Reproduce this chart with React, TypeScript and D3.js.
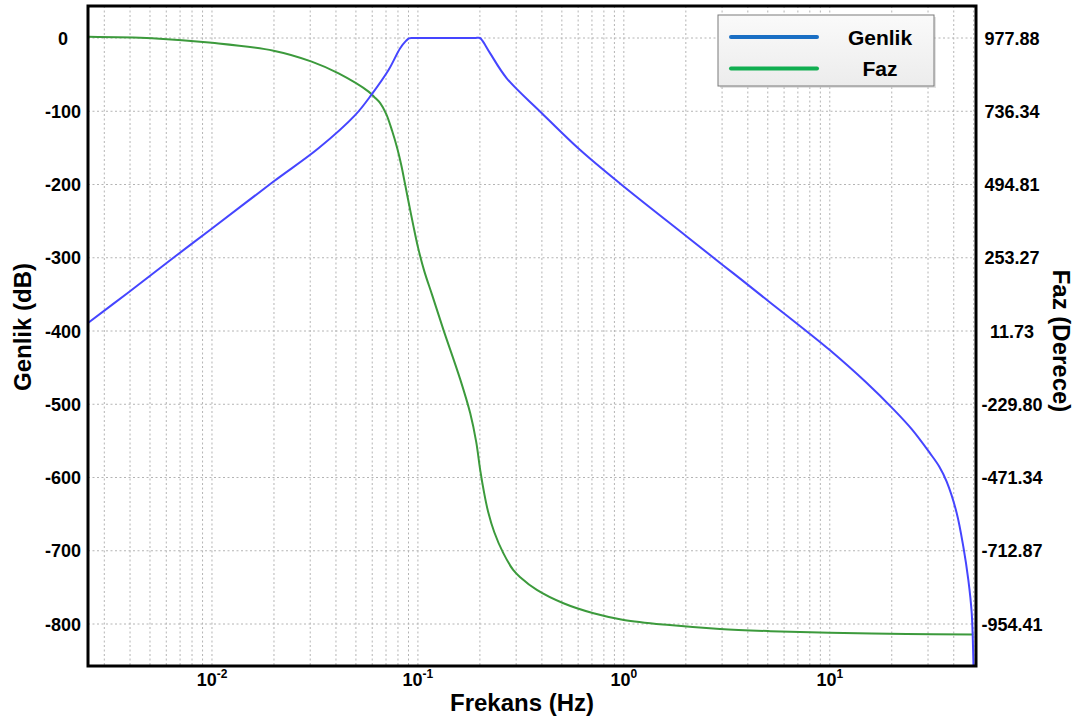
import React from "react";
import * as d3 from "d3";

// Magnitude (dB) vs frequency (Hz)
const magFreq = [0.0025, 0.00394, 0.00664, 0.01, 0.0199, 0.0329, 0.0497, 0.0598, 0.072, 0.082, 0.0875, 0.0905, 0.094, 0.11, 0.14, 0.17, 0.19, 0.2, 0.206, 0.2244, 0.27, 0.393, 0.614, 0.978, 2.02, 3.04, 3.67, 5.13, 8.02, 10.0, 15.0, 20.4, 25.0, 30.7, 34.0, 37.0, 41.3, 44.5, 47.1, 48.9, 49.8, 50.3];
const magDb = [-389, -347, -298, -260, -196, -150.6, -105, -76.5, -43.7, -14, -4, -0.5, 0, 0, 0, 0, 0, 0, -4, -21, -55, -100.6, -153, -200.7, -271, -310.5, -328.5, -361, -404, -426, -470, -507, -534, -567, -585, -606, -648, -694, -740, -785, -849, -920];

// Phase (degrees) vs frequency (Hz)
const phaseFreq = [0.0025, 0.00512, 0.01, 0.0199, 0.0305, 0.0412, 0.0576, 0.0621, 0.0656, 0.0702, 0.075, 0.0793, 0.083, 0.0868, 0.0907, 0.0949, 0.1003, 0.1073, 0.1173, 0.1327, 0.1604, 0.1794, 0.1919, 0.2007, 0.2098, 0.2194, 0.2347, 0.2595, 0.2901, 0.3139, 0.378, 0.509, 0.7126, 0.999, 1.67, 2.93, 5.14, 10.0, 23.6, 49.9];
const phaseDeg = [982, 977, 962, 936, 900, 861, 801, 780, 763, 727, 671, 615, 559, 493, 427, 361, 285, 210, 130, 18, -147, -259, -354, -447, -523, -585, -651, -720, -776, -800, -842, -886, -919, -941, -958, -971, -978, -983, -987, -989];

const leftTicks = [0, -100, -200, -300, -400, -500, -600, -700, -800];
const rightTicks = [977.88, 736.34, 494.81, 253.27, 11.73, -229.8, -471.34, -712.87, -954.41];
const xMajor = [0.01, 0.1, 1, 10];
const xMajorExp = ["-2", "-1", "0", "1"];

const FONT = "'Liberation Sans', Arial, Helvetica, sans-serif";

export default function App() {
  const W = 1078, H = 718;
  const L = 88, R = 976, T = 6, B = 666;
  const x = d3.scaleLog().domain([0.0025, 51.3]).range([L, R]);
  const yL = d3.scaleLinear().domain([0, -800]).range([38, 624]);
  const yR = d3.scaleLinear().domain([977.88, -954.41]).range([38, 624]);

  const minor: number[] = [];
  for (let e = -3; e <= 1; e++) {
    for (let m = 1; m <= 9; m++) {
      const v = m * Math.pow(10, e);
      if (v >= 0.0025 && v <= 51.3) minor.push(v);
    }
  }

  const magLine = d3.line<number>()
    .x((_, i) => x(magFreq[i]))
    .y((d) => yL(d))
    .curve(d3.curveCatmullRom.alpha(0.5));
  const phLine = d3.line<number>()
    .x((_, i) => x(phaseFreq[i]))
    .y((d) => yR(d))
    .curve(d3.curveCatmullRom.alpha(0.5));

  return (
    <svg width={W} height={H} style={{ position: "absolute", left: 0, top: 0, background: "#fff" }} fontFamily={FONT}>
      <defs>
        <clipPath id="plotclip">
          <rect x={L} y={T} width={R - L} height={B - T} />
        </clipPath>
        <linearGradient id="legbg" x1="0" y1="0" x2="0" y2="1">
          <stop offset="0" stopColor="#fafafa" />
          <stop offset="1" stopColor="#ececec" />
        </linearGradient>
      </defs>
      <rect x={0} y={0} width={W} height={H} fill="#fff" />
      {/* grid */}
      <g stroke="#b4b4b4" strokeWidth={1} strokeDasharray="2,2.5">
        {minor.map((v, i) => (
          <line key={"v" + i} x1={x(v)} x2={x(v)} y1={T} y2={B} />
        ))}
        {leftTicks.map((v, i) => (
          <line key={"h" + i} x1={L} x2={R} y1={yL(v)} y2={yL(v)} />
        ))}
      </g>
      {/* curves */}
      <g clipPath="url(#plotclip)" fill="none">
        <path d={phLine(phaseDeg) || ""} stroke="#3c9a3c" strokeWidth={2} />
        <path d={magLine(magDb) || ""} stroke="#4545ff" strokeWidth={2} />
      </g>
      {/* frame */}
      <rect x={L} y={T} width={R - L} height={B - T} fill="none" stroke="#000" strokeWidth={3} />
      {/* ticks */}
      <g fontSize={18} fontWeight="bold" textAnchor="middle" fill="#000">
        {leftTicks.map((v, i) => (
          <text key={"lt" + i} x={63} y={yL(v) + 6.5}>{v}</text>
        ))}
        {rightTicks.map((v, i) => (
          <text key={"rt" + i} x={1012} y={yR(v) + 6.5}>{v.toFixed(2)}</text>
        ))}
        {xMajor.map((v, i) => (
          <text key={"xt" + i} x={x(v)} y={686}>
            <tspan>10</tspan>
            <tspan fontSize={12} dy={-8}>{xMajorExp[i]}</tspan>
          </text>
        ))}
      </g>
      {/* axis titles */}
      <g fontSize={24} fontWeight="bold" textAnchor="middle" fill="#000">
        <text x={522} y={711}>Frekans (Hz)</text>
        <text transform="translate(31,327) rotate(-90)">Genlik (dB)</text>
        <text transform="translate(1053,341) rotate(90)">Faz (Derece)</text>
      </g>
      {/* legend */}
      <g>
        <rect x={720} y={17} width={216} height={71} fill="#c8c8c8" opacity={0.5} />
        <rect x={718} y={15} width={216} height={71} fill="url(#legbg)" stroke="#7a7a7a" strokeWidth={1} />
        <line x1={731} x2={817} y1={37} y2={37} stroke="#1a6fc4" strokeWidth={4} strokeLinecap="round" />
        <line x1={731} x2={817} y1={68.5} y2={68.5} stroke="#10ae50" strokeWidth={4} strokeLinecap="round" />
        <text x={880} y={44.5} fontSize={21} fontWeight="bold" textAnchor="middle">Genlik</text>
        <text x={880} y={76} fontSize={21} fontWeight="bold" textAnchor="middle">Faz</text>
      </g>
    </svg>
  );
}
